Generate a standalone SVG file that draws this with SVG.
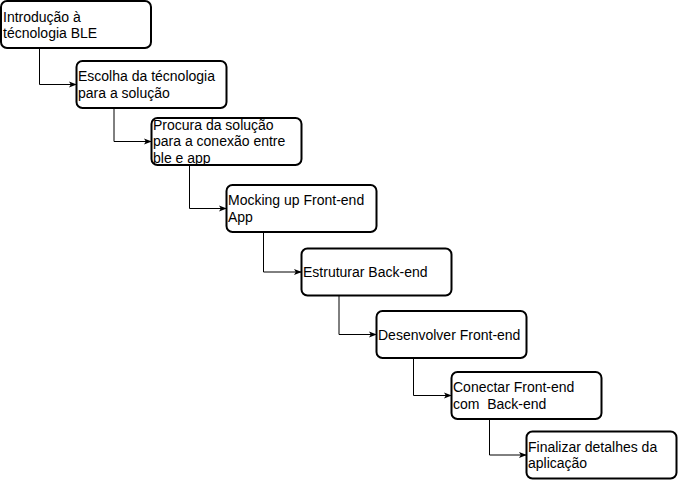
<svg xmlns="http://www.w3.org/2000/svg" width="678" height="481" viewBox="0 0 678 481">
<style>
.box{fill:#fff;stroke:#000;stroke-width:2}
.t{font-family:"Liberation Sans",Arial,sans-serif;font-size:14px;fill:#000}
.c{fill:none;stroke:#000;stroke-width:1}
</style>
<defs>
<marker id="ar" viewBox="0 0 10 10" refX="9" refY="5" markerWidth="8" markerHeight="8" markerUnits="userSpaceOnUse" orient="auto">
<path d="M0,1 L10,5 L0,9 L2.5,5 Z" fill="#000"/>
</marker>
</defs>
<rect width="678" height="481" fill="#fff"/>
<g id="connectors">
<path class="c" d="M39.5,48 V84.5 H76" marker-end="url(#ar)"/>
<path class="c" d="M114,108 V141.5 H151" marker-end="url(#ar)"/>
<path class="c" d="M189.5,165 V208.5 H226" marker-end="url(#ar)"/>
<path class="c" d="M263.5,232 V272 H301" marker-end="url(#ar)"/>
<path class="c" d="M339,296 V334.5 H376" marker-end="url(#ar)"/>
<path class="c" d="M413.5,358 V395.5 H451" marker-end="url(#ar)"/>
<path class="c" d="M489.5,419 V455 H526" marker-end="url(#ar)"/>
</g>
<g id="n1"><rect class="box" x="1" y="1" width="150" height="47" rx="6"/>
<text class="t" x="3" y="21.8">Introdução à</text><text class="t" x="3" y="38.2">técnologia BLE</text></g>
<g id="n2"><rect class="box" x="76.5" y="61" width="150" height="47" rx="6"/>
<text class="t" x="78" y="81.3">Escolha da técnologia</text><text class="t" x="78" y="97.7">para a solução</text></g>
<g id="n3"><rect class="box" x="151.5" y="118" width="150" height="47" rx="6"/>
<text class="t" x="153" y="129.8">Procura da solução</text><text class="t" x="153" y="146.2">para a conexão entre</text><text class="t" x="153" y="162.6">ble e app</text></g>
<g id="n4"><rect class="box" x="226.5" y="185" width="150" height="47" rx="6"/>
<text class="t" x="228" y="205.3">Mocking up Front-end</text><text class="t" x="228" y="221.7">App</text></g>
<g id="n5"><rect class="box" x="301.5" y="248.5" width="150" height="47" rx="6"/>
<text class="t" x="303" y="277.3">Estruturar Back-end</text></g>
<g id="n6"><rect class="box" x="376.5" y="311" width="150" height="47" rx="6"/>
<text class="t" x="378" y="339.5">Desenvolver Front-end</text></g>
<g id="n7"><rect class="box" x="451.5" y="372" width="150" height="47" rx="6"/>
<text class="t" x="453" y="392.3">Conectar Front-end</text><text class="t" x="453" y="408.7" xml:space="preserve">com  Back-end</text></g>
<g id="n8"><rect class="box" x="526.5" y="431.5" width="150" height="47" rx="6"/>
<text class="t" x="528" y="451.8">Finalizar detalhes da</text><text class="t" x="528" y="468.2">aplicação</text></g>
</svg>
